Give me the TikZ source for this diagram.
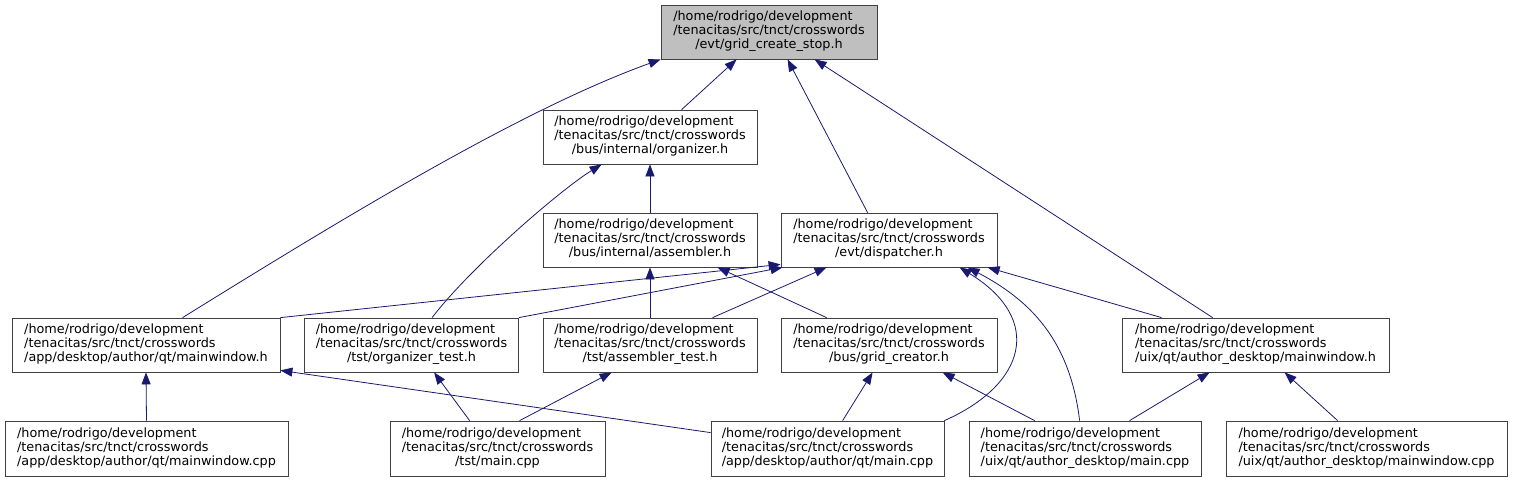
\documentclass[tikz,border=0pt]{standalone}
\usepackage{fontspec}
\setmainfont{DejaVu Sans}
\usetikzlibrary{arrows.meta,calc}
\definecolor{edgeblue}{HTML}{191970}
\definecolor{boxline}{HTML}{404040}
\definecolor{boxgray}{HTML}{BFBFBF}
\newcommand{\pth}{/home/rodrigo/development}
\newcommand{\tnc}{/tenacitas/src/tnct/crosswords}
\newcommand{\lbl}[1]{\begin{tabular}{@{}l@{}}\pth\\\tnc\\\multicolumn{1}{@{}c@{}}{#1}\end{tabular}}
\tikzset{
  filebox/.style={draw=boxline, fill=white, line width=0.8pt, inner sep=0pt,
    minimum height=54pt, font=\fontsize{12.8}{14}\selectfont},
  curbox/.style={filebox, fill=boxgray},
  dep/.style={draw=edgeblue, line width=0.8pt, -{Triangle[length=12pt,width=9pt]}}
}
\begin{document}
\begin{tikzpicture}[x=1pt,y=-1pt]
\useasboundingbox (0,0) rectangle (1513,483);
% nodes
\node[curbox, minimum width=216pt] (T) at (769,32) {\lbl{/evt/grid\_create\_stop.h}};
\node[filebox, minimum width=214pt] (ORG) at (650,137) {\lbl{/bus/internal/organizer.h}};
\node[filebox, minimum width=214pt] (ASM) at (650,240) {\lbl{/bus/internal/assembler.h}};
\node[filebox, minimum width=216pt] (DSP) at (889,240) {\lbl{/evt/dispatcher.h}};
\node[filebox, minimum width=268pt] (AMH) at (146,345) {\lbl{/app/desktop/author/qt/mainwindow.h}};
\node[filebox, minimum width=214pt] (OTS) at (411.5,345) {\lbl{/tst/organizer\_test.h}};
\node[filebox, minimum width=214pt] (ATS) at (650,345) {\lbl{/tst/assembler\_test.h}};
\node[filebox, minimum width=216pt] (GRC) at (889,345) {\lbl{/bus/grid\_creator.h}};
\node[filebox, minimum width=267pt] (UMH) at (1255.5,345) {\lbl{/uix/qt/author\_desktop/mainwindow.h}};
\node[filebox, minimum width=283pt, minimum height=55pt] (AMC) at (146.5,448.5) {\lbl{/app/desktop/author/qt/mainwindow.cpp}};
\node[filebox, minimum width=215pt, minimum height=55pt] (TMN) at (497.5,448.5) {\lbl{/tst/main.cpp}};
\node[filebox, minimum width=233pt, minimum height=55pt] (AQM) at (827.5,448.5) {\lbl{/app/desktop/author/qt/main.cpp}};
\node[filebox, minimum width=232pt, minimum height=55pt] (UQM) at (1085,448.5) {\lbl{/uix/qt/author\_desktop/main.cpp}};
\node[filebox, minimum width=281pt, minimum height=55pt] (UMC) at (1366.5,448.5) {\lbl{/uix/qt/author\_desktop/mainwindow.cpp}};
% edges into grid_create_stop.h
\draw[dep] ($(AMH.north west)+(171,0)$) .. controls (340,220) and (520,110) .. (T.south west);
\draw[dep] ($(ORG.north west)+(139,0)$) -- ($(T.south west)+(76,0)$);
\draw[dep] ($(DSP.north west)+(87,0)$) -- ($(T.south west)+(127,0)$);
\draw[dep] ($(UMH.north west)+(91,0)$) -- ($(T.south west)+(154,0)$);
% edges into organizer.h
\draw[dep] ($(OTS.north west)+(128,0)$) .. controls (470,268) and (560,190) .. ($(ORG.south west)+(59,0)$);
\draw[dep] (ASM.north) -- (ORG.south);
% edges into assembler.h
\draw[dep] (ATS.north) -- (ASM.south);
\draw[dep] ($(GRC.north west)+(46,0)$) -- ($(ASM.south west)+(175,0)$);
% edges into dispatcher.h
\draw[dep] (AMH.north east) -- ($(DSP.south west)+(0,-3)$);
\draw[dep] (OTS.north east) -- ($(DSP.south west)+(2,0)$);
\draw[dep] ($(ATS.north west)+(170,0)$) -- ($(DSP.south west)+(46,0)$);
\draw[dep] (AQM.north east) .. controls (1025,385) and (1045,320) .. ($(DSP.south west)+(179,0)$);
\draw[dep] ($(UQM.north west)+(111,0)$) .. controls (1070,340) and (1030,300) .. ($(DSP.south west)+(187,0)$);
\draw[dep] ($(UMH.north west)+(40,0)$) -- ($(DSP.south west)+(207,0)$);
% edges into row 3
\draw[dep] (AMC.north) -- (AMH.south);
\draw[dep] ($(AQM.north west)+(0,12)$) -- ($(AMH.south east)+(0,-2)$);
\draw[dep] ($(TMN.north west)+(80,0)$) -- ($(OTS.south west)+(130,0)$);
\draw[dep] ($(TMN.north west)+(130,0)$) -- ($(ATS.south west)+(69,0)$);
\draw[dep] ($(AQM.north west)+(132,0)$) -- ($(GRC.south west)+(92,0)$);
\draw[dep] ($(UQM.north west)+(66,0)$) -- ($(GRC.south west)+(162,0)$);
\draw[dep] ($(UQM.north west)+(161,0)$) -- ($(UMH.south west)+(88,0)$);
\draw[dep] ($(UMC.north west)+(112,0)$) -- ($(UMH.south west)+(163,0)$);
\end{tikzpicture}
\end{document}
